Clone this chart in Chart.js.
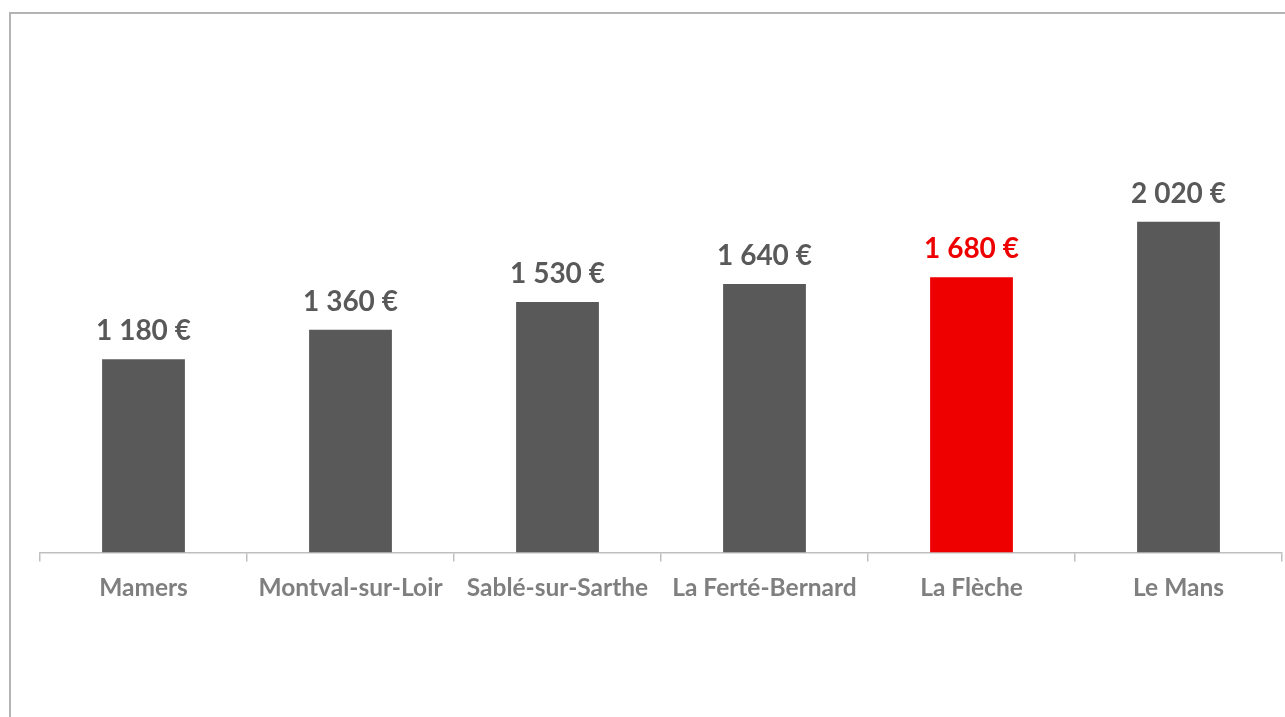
<!DOCTYPE html>
<html>
<head>
<meta charset="utf-8">
<script src="https://cdn.jsdelivr.net/npm/chart.js@4"></script>
<style>
  html, body { margin: 0; padding: 0; background: #fff; }
  #wrap { position: relative; width: 1285px; height: 717px; }
  #frame {
    position: absolute; left: 9px; top: 12px; right: 0; bottom: 0;
    border-top: 2px solid #b4b4b4; border-left: 2px solid #b4b4b4;
    pointer-events: none;
  }
</style>
</head>
<body>
<div id="wrap">
  <canvas id="myChart" width="1285" height="717"></canvas>
  <div id="frame"></div>
</div>
<script>
// Chart data
const towns = ['Mamers', 'Montval-sur-Loir', 'Sablé-sur-Sarthe', 'La Ferté-Bernard', 'La Flèche', 'Le Mans']
const amounts = [1180, 1360, 1530, 1640, 1680, 2020]
const highlightTown = 'La Flèche'

const grey = '#595959'
const red = '#ee0000'
const barColors = towns.map(t => t === highlightTown ? red : grey)

// format "1 180 €"
function euro(v) {
  return String(v).replace(/\B(?=(\d{3})+(?!\d))/g, ' ') + ' €'
}

// Draw value labels above each bar
const valueLabels = {
  id: 'valueLabels',
  afterDatasetsDraw(chart) {
    const ctx = chart.ctx
    const meta = chart.getDatasetMeta(0)
    ctx.save()
    ctx.font = 'bold 28px Lato'
    ctx.textAlign = 'center'
    ctx.textBaseline = 'alphabetic'
    meta.data.forEach((bar, i) => {
      ctx.fillStyle = barColors[i]
      ctx.fillText(euro(amounts[i]), bar.x, bar.y - 19)
    })
    ctx.restore()
  }
}

const ctx = document.getElementById('myChart').getContext('2d')
const myChart = new Chart(ctx, {
  type: 'bar',
  data: {
    labels: towns,
    datasets: [{
      data: amounts,
      backgroundColor: barColors,
      borderWidth: 0,
      barPercentage: 0.4,
      categoryPercentage: 1.0
    }]
  },
  options: {
    responsive: false,
    animation: false,
    layout: {
      padding: { left: 40, right: 3, top: 143, bottom: 102 }
    },
    plugins: {
      legend: { display: false },
      tooltip: { enabled: false }
    },
    scales: {
      x: {
        grid: {
          offset: true,
          drawOnChartArea: false,
          drawTicks: true,
          tickLength: 9,
          color: '#bfbfbf',
          lineWidth: 1.5
        },
        border: { display: true, color: '#bfbfbf', width: 1.5 },
        ticks: {
          color: '#7f7f7f',
          padding: 12,
          font: { family: 'Lato', size: 24.5, weight: 'bold' },
          maxRotation: 0,
          autoSkip: false
        }
      },
      y: {
        display: false,
        min: 0,
        max: 2500
      }
    }
  },
  plugins: [valueLabels]
})
</script>
</body>
</html>
